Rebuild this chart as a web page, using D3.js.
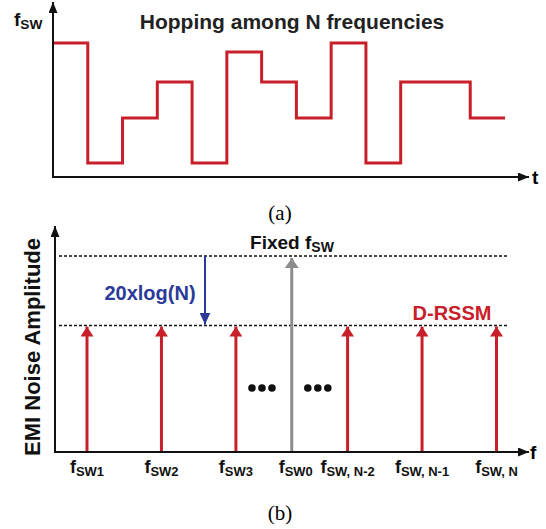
<!DOCTYPE html>
<html>
<head>
<meta charset="utf-8">
<script src="https://cdn.jsdelivr.net/npm/d3@7"></script>
<style>
  body { margin:0; background:#fff; }
  text { font-family: "Liberation Sans", Arial, sans-serif; font-weight:bold; }
  .cap { font-family: "Liberation Serif", "Times New Roman", serif; font-weight:normal; }
</style>
</head>
<body>
<div id="chart"></div>
<script>
// (a) hopping sequence: segment boundaries (time units) and frequency level of each segment
var hopTimes = [0,1,2,3,4,5,6,7,8,9,10,11,12,13];
var hopFreq  = [5, 1, 2.5, 3.7, 1, 4.7, 3.7, 2.5, 5, 1, 3.7, 3.7, 2.5];

// (b) spectrum lines
var lineLabels = ["SW1","SW2","SW3","SW, N-2","SW, N-1","SW, N"];
var lineFreq   = [1, 2, 3, 4.5, 5.5, 6.5];
var fixedFreq  = 3.75, fixedLabel = "SW0";
var fixedAmp   = 1, rssmAmp = 0.645;
var dotFreq    = [3.35, 4.1];

var red = "#c8202a", blue = "#2b3a98", gray = "#8c8c8c";

var svg = d3.select("#chart").append("svg")
    .attr("width", 546).attr("height", 529);

var defs = svg.append("defs");
function marker(id, color, w, h) {
  defs.append("marker")
      .attr("id", id)
      .attr("markerUnits", "userSpaceOnUse")
      .attr("viewBox", "0 0 " + h + " " + w)
      .attr("refX", h).attr("refY", w/2)
      .attr("markerWidth", h).attr("markerHeight", w)
      .attr("orient", "auto")
    .append("path")
      .attr("d", "M0,0L" + h + "," + (w/2) + "L0," + w + "Z")
      .attr("fill", color);
}
marker("ax", "#111", 9, 11);
marker("rd", red, 13, 10);
marker("gr", gray, 14, 10);
marker("bl", blue, 11, 12);

// subscript label helper
function fLabel(g, x, y, sub, size, anchor) {
  var t = g.append("text").attr("x", x).attr("y", y)
      .attr("text-anchor", anchor || "middle").attr("fill", "#111");
  t.append("tspan").attr("font-size", size).text("f");
  t.append("tspan").attr("font-size", size * 0.72).attr("dy", 3).text(sub);
  return t;
}

// ---------- (a) ----------
var tx = d3.scaleLinear().domain([0, 13]).range([53, 505]);
var fy = d3.scaleLinear().domain([0, 6]).range([193, 13]);

var pts = [];
hopFreq.forEach(function(f, i) {
  pts.push([hopTimes[i], f]);
  pts.push([hopTimes[i+1], f]);
});
svg.append("path")
    .attr("d", d3.line().x(d => tx(d[0])).y(d => fy(d[1]))(pts))
    .attr("fill", "none").attr("stroke", red).attr("stroke-width", 3)
    .attr("stroke-linejoin", "miter");

svg.append("line").attr("x1", 53).attr("y1", 177).attr("x2", 53).attr("y2", 2)
    .attr("stroke", "#111").attr("stroke-width", 2).attr("marker-end", "url(#ax)");
svg.append("line").attr("x1", 52).attr("y1", 177).attr("x2", 529).attr("y2", 177)
    .attr("stroke", "#111").attr("stroke-width", 2).attr("marker-end", "url(#ax)");

fLabel(svg, 14, 26, "SW", 19, "start");
svg.append("text").attr("x", 532).attr("y", 184).attr("font-size", 19).text("t");
svg.append("text").attr("x", 292).attr("y", 29).attr("text-anchor", "middle")
    .attr("font-size", 21).attr("fill", "#222").text("Hopping among N frequencies");

svg.append("text").attr("class", "cap").attr("x", 280).attr("y", 220)
    .attr("text-anchor", "middle").attr("font-size", 21).text("(a)");

// ---------- (b) ----------
var fx = d3.scaleLinear().domain([1, 6.5]).range([87, 496.5]);
var ay = d3.scaleLinear().domain([0, 1]).range([452, 256]);

// dashed reference levels
[fixedAmp, rssmAmp].forEach(function(a) {
  svg.append("line").attr("x1", 59).attr("x2", 508)
      .attr("y1", ay(a)).attr("y2", ay(a))
      .attr("stroke", "#111").attr("stroke-width", 1.5).attr("stroke-dasharray", "3,2");
});

svg.selectAll(".rline").data(lineFreq).enter().append("line")
    .attr("class", "rline")
    .attr("x1", d => fx(d)).attr("x2", d => fx(d))
    .attr("y1", ay(0)).attr("y2", ay(rssmAmp) + 1)
    .attr("stroke", red).attr("stroke-width", 3).attr("marker-end", "url(#rd)");

svg.append("line")
    .attr("x1", fx(fixedFreq)).attr("x2", fx(fixedFreq))
    .attr("y1", ay(0)).attr("y2", ay(fixedAmp) + 2)
    .attr("stroke", gray).attr("stroke-width", 3).attr("marker-end", "url(#gr)");

// axes
svg.append("line").attr("x1", 55).attr("y1", 453).attr("x2", 55).attr("y2", 226)
    .attr("stroke", "#111").attr("stroke-width", 2).attr("marker-end", "url(#ax)");
svg.append("line").attr("x1", 54).attr("y1", 452).attr("x2", 529).attr("y2", 452)
    .attr("stroke", "#111").attr("stroke-width", 2).attr("marker-end", "url(#ax)");
svg.append("text").attr("x", 530).attr("y", 459).attr("font-size", 19).text("f");

// 20xlog(N) arrow
svg.append("line").attr("x1", 205).attr("x2", 205)
    .attr("y1", ay(fixedAmp)).attr("y2", ay(rssmAmp) - 1)
    .attr("stroke", blue).attr("stroke-width", 2).attr("marker-end", "url(#bl)");
svg.append("text").attr("x", 150).attr("y", 300).attr("text-anchor", "middle")
    .attr("font-size", 20).attr("fill", blue).text("20xlog(N)");
svg.append("text").attr("x", 452).attr("y", 320).attr("text-anchor", "middle")
    .attr("font-size", 20).attr("fill", red).text("D-RSSM");

var fix = svg.append("text").attr("x", 292).attr("y", 249).attr("text-anchor", "middle")
    .attr("fill", "#111");
fix.append("tspan").attr("font-size", 19).text("Fixed f");
fix.append("tspan").attr("font-size", 14).attr("dy", 3).text("SW");

// ellipsis dots
dotFreq.forEach(function(f) {
  [-10, 0, 10].forEach(function(o) {
    svg.append("circle").attr("cx", fx(f) + o).attr("cy", 388).attr("r", 3.8).attr("fill", "#111");
  });
});

// tick labels
lineFreq.forEach(function(f, i) { fLabel(svg, fx(f), 473, lineLabels[i], 18); });
fLabel(svg, fx(fixedFreq) + 4, 473, fixedLabel, 18);

svg.append("text").attr("transform", "translate(40,347) rotate(-90)")
    .attr("text-anchor", "middle").attr("font-size", 22).attr("fill", "#111")
    .text("EMI Noise Amplitude");

svg.append("text").attr("class", "cap").attr("x", 280).attr("y", 520)
    .attr("text-anchor", "middle").attr("font-size", 21).text("(b)");
</script>
</body>
</html>
